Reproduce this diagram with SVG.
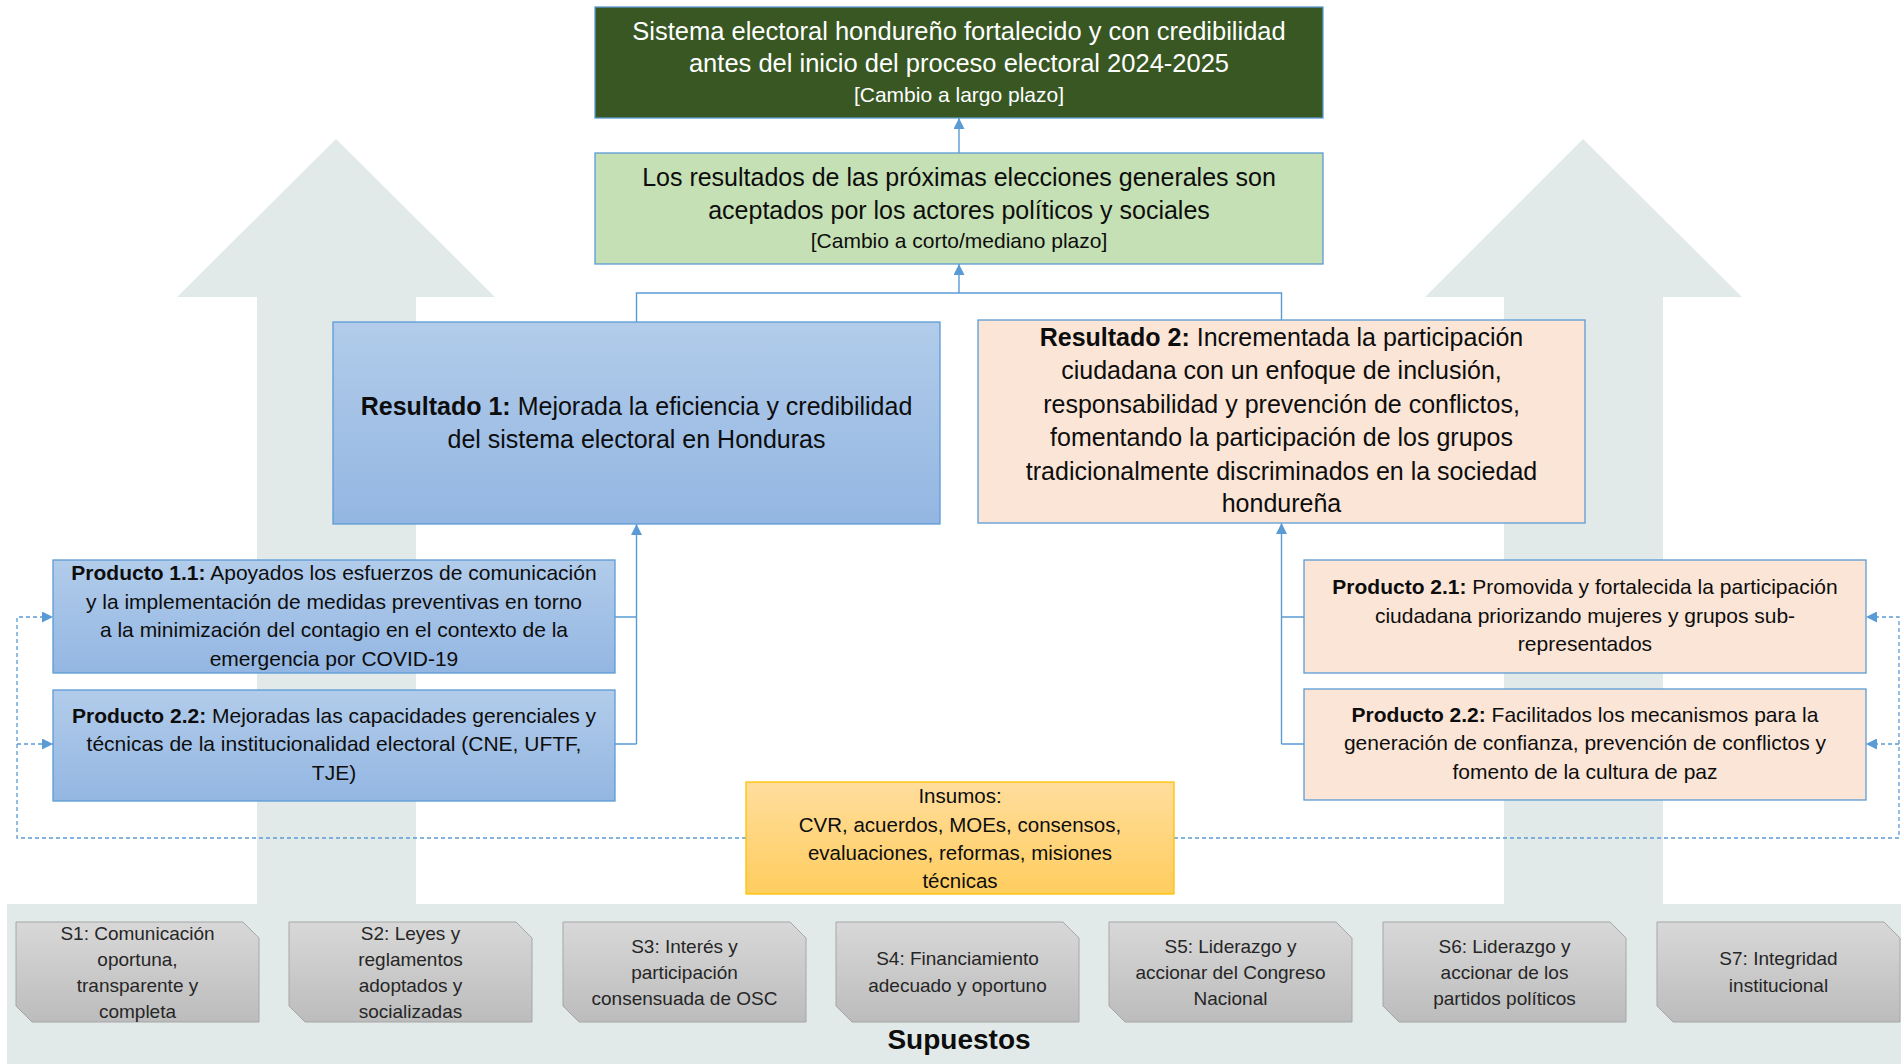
<svg xmlns="http://www.w3.org/2000/svg" width="1901" height="1064" viewBox="0 0 1901 1064">
<defs>
<linearGradient id="gBlue" x1="0" y1="0" x2="0" y2="1">
<stop offset="0" stop-color="#B2CCEA"/><stop offset="1" stop-color="#93B6E2"/>
</linearGradient>
<linearGradient id="gGold" x1="0" y1="0" x2="0" y2="1">
<stop offset="0" stop-color="#FFDD9C"/><stop offset="1" stop-color="#FFCD5F"/>
</linearGradient>
<linearGradient id="gGray" x1="0" y1="0" x2="0" y2="1">
<stop offset="0" stop-color="#D8D8D8"/><stop offset="1" stop-color="#BCBCBC"/>
</linearGradient>
<marker id="ah" viewBox="0 0 10 10" refX="10" refY="5" markerUnits="userSpaceOnUse" markerWidth="11" markerHeight="11" orient="auto">
<path d="M0,0 L10,5 L0,10 Z" fill="#5B9BD5"/>
</marker>
<symbol id="snip" viewBox="0 0 243 100" preserveAspectRatio="none">
<path d="M0,0 H227 L243,16 V100 H16 L0,84 Z"/>
</symbol>
</defs>
<style>
text{font-family:"Liberation Sans",Arial,sans-serif;text-anchor:middle}
.b{font-weight:bold}
.main{font-size:25px;fill:#0D0D0D}
.top{font-size:25.5px;fill:#FFFFFF}
.sub{font-size:21px}
.prod{font-size:21px;fill:#0D0D0D}
.ins{font-size:20.5px;fill:#0D0D0D}
.sup{font-size:19px;fill:#262626}
.box{stroke:#5B9BD5;stroke-width:1.3}
.conn{fill:none;stroke:#5B9BD5;stroke-width:1.4}
.dash{fill:none;stroke:#5B9BD5;stroke-width:1.3;stroke-dasharray:4 3}
.snip{fill:url(#gGray);stroke:#A6A6A6;stroke-width:1}
.bg{fill:#E2EAE9}
</style>
<rect width="1901" height="1064" fill="#FFFFFF"/>
<g id="background">
<path class="bg" d="M336,139 L495,297 H416 V904 H257 V297 H177 Z"/>
<path class="bg" d="M1583,139 L1742,297 H1663 V904 H1504 V297 H1425 Z"/>
<rect class="bg" x="7" y="904" width="1894" height="160"/>
</g>
<g id="connectors">
<path class="conn" d="M959,153 V118" marker-end="url(#ah)"/>
<path class="conn" d="M636.5,322 V293 H1281.5 V320"/>
<path class="conn" d="M959,293 V264" marker-end="url(#ah)"/>
<path class="conn" d="M615,617 H636.5 M615,744 H636.5"/>
<path class="conn" d="M636.5,744 V524" marker-end="url(#ah)"/>
<path class="conn" d="M1304,617 H1281.5 M1304,744 H1281.5"/>
<path class="conn" d="M1281.5,744 V523" marker-end="url(#ah)"/>
<path class="dash" d="M746,838 H17 V617 H53" marker-end="url(#ah)"/>
<path class="dash" d="M17,744 H53" marker-end="url(#ah)"/>
<path class="dash" d="M1174,838 H1899 V617 H1866" marker-end="url(#ah)"/>
<path class="dash" d="M1899,744 H1866" marker-end="url(#ah)"/>
</g>
<g id="impacto">
<rect x="595" y="7" width="728" height="111" fill="#385723" class="box"/>
<text class="top" x="959" y="40">Sistema electoral hondureño fortalecido y con credibilidad</text>
<text class="top" x="959" y="72">antes del inicio del proceso electoral 2024-2025</text>
<text class="top sub" x="959" y="102">[Cambio a largo plazo]</text>
</g>
<g id="efecto">
<rect x="595" y="153" width="728" height="111" fill="#C5E0B4" class="box"/>
<text class="main" x="959" y="186">Los resultados de las próximas elecciones generales son</text>
<text class="main" x="959" y="219">aceptados por los actores políticos y sociales</text>
<text class="main sub" x="959" y="248">[Cambio a corto/mediano plazo]</text>
</g>
<g id="resultado1">
<rect x="333" y="322" width="607" height="202" fill="url(#gBlue)" class="box"/>
<text class="main" x="636.5" y="415"><tspan class="b">Resultado 1:</tspan> Mejorada la eficiencia y credibilidad</text>
<text class="main" x="636.5" y="448">del sistema electoral en Honduras</text>
</g>
<g id="resultado2">
<rect x="978" y="320" width="607" height="203" fill="#FBE5D6" class="box"/>
<text class="main" x="1281.5" y="346"><tspan class="b">Resultado 2:</tspan> Incrementada la participación</text>
<text class="main" x="1281.5" y="379">ciudadana con un enfoque de inclusión,</text>
<text class="main" x="1281.5" y="413">responsabilidad y prevención de conflictos,</text>
<text class="main" x="1281.5" y="446">fomentando la participación de los grupos</text>
<text class="main" x="1281.5" y="480">tradicionalmente discriminados en la sociedad</text>
<text class="main" x="1281.5" y="512">hondureña</text>
</g>
<g id="producto11">
<rect x="53" y="560" width="562" height="113" fill="url(#gBlue)" class="box"/>
<text class="prod" x="334" y="580"><tspan class="b">Producto 1.1:</tspan> Apoyados los esfuerzos de comunicación</text>
<text class="prod" x="334" y="609">y la implementación de medidas preventivas en torno</text>
<text class="prod" x="334" y="637">a la minimización del contagio en el contexto de la</text>
<text class="prod" x="334" y="666">emergencia por COVID-19</text>
</g>
<g id="producto22a">
<rect x="53" y="690" width="562" height="111" fill="url(#gBlue)" class="box"/>
<text class="prod" x="334" y="723"><tspan class="b">Producto 2.2:</tspan> Mejoradas las capacidades gerenciales y</text>
<text class="prod" x="334" y="751">técnicas de la institucionalidad electoral (CNE, UFTF,</text>
<text class="prod" x="334" y="780">TJE)</text>
</g>
<g id="producto21">
<rect x="1304" y="560" width="562" height="113" fill="#FBE5D6" class="box"/>
<text class="prod" x="1585" y="594"><tspan class="b">Producto 2.1:</tspan> Promovida y fortalecida la participación</text>
<text class="prod" x="1585" y="623">ciudadana priorizando mujeres y grupos sub-</text>
<text class="prod" x="1585" y="651">representados</text>
</g>
<g id="producto22b">
<rect x="1304" y="689" width="562" height="111" fill="#FBE5D6" class="box"/>
<text class="prod" x="1585" y="722"><tspan class="b">Producto 2.2:</tspan> Facilitados los mecanismos para la</text>
<text class="prod" x="1585" y="750">generación de confianza, prevención de conflictos y</text>
<text class="prod" x="1585" y="779">fomento de la cultura de paz</text>
</g>
<g id="insumos">
<rect x="746" y="782" width="428" height="112" fill="url(#gGold)" stroke="#FFC000" stroke-width="1.3"/>
<text class="ins" x="960" y="803">Insumos:</text>
<text class="ins" x="960" y="832">CVR, acuerdos, MOEs, consensos,</text>
<text class="ins" x="960" y="860">evaluaciones, reformas, misiones</text>
<text class="ins" x="960" y="888">técnicas</text>
</g>
<g id="s1">
<path class="snip" d="M16,922 H243 L259,938 V1022 H32 L16,1006 Z"/>
<text class="sup" x="137.5" y="940">S1: Comunicación</text>
<text class="sup" x="137.5" y="966">oportuna,</text>
<text class="sup" x="137.5" y="992">transparente y</text>
<text class="sup" x="137.5" y="1018">completa</text>
</g>
<g id="s2">
<path class="snip" d="M289,922 H516 L532,938 V1022 H305 L289,1006 Z"/>
<text class="sup" x="410.5" y="940">S2: Leyes y</text>
<text class="sup" x="410.5" y="966">reglamentos</text>
<text class="sup" x="410.5" y="992">adoptados y</text>
<text class="sup" x="410.5" y="1018">socializadas</text>
</g>
<g id="s3">
<path class="snip" d="M563,922 H790 L806,938 V1022 H579 L563,1006 Z"/>
<text class="sup" x="684.5" y="953">S3: Interés y</text>
<text class="sup" x="684.5" y="979">participación</text>
<text class="sup" x="684.5" y="1005">consensuada de OSC</text>
</g>
<g id="s4">
<path class="snip" d="M836,922 H1063 L1079,938 V1022 H852 L836,1006 Z"/>
<text class="sup" x="957.5" y="965">S4: Financiamiento</text>
<text class="sup" x="957.5" y="992">adecuado y oportuno</text>
</g>
<g id="s5">
<path class="snip" d="M1109,922 H1336 L1352,938 V1022 H1125 L1109,1006 Z"/>
<text class="sup" x="1230.5" y="953">S5: Liderazgo y</text>
<text class="sup" x="1230.5" y="979">accionar del Congreso</text>
<text class="sup" x="1230.5" y="1005">Nacional</text>
</g>
<g id="s6">
<path class="snip" d="M1383,922 H1610 L1626,938 V1022 H1399 L1383,1006 Z"/>
<text class="sup" x="1504.5" y="953">S6: Liderazgo y</text>
<text class="sup" x="1504.5" y="979">accionar de los</text>
<text class="sup" x="1504.5" y="1005">partidos políticos</text>
</g>
<g id="s7">
<path class="snip" d="M1657,922 H1884 L1900,938 V1022 H1673 L1657,1006 Z"/>
<text class="sup" x="1778.5" y="965">S7: Integridad</text>
<text class="sup" x="1778.5" y="992">institucional</text>
</g>
<g id="supuestos">
<text class="b" x="959" y="1049" style="font-size:28px;fill:#0D0D0D">Supuestos</text>
</g>
</svg>
